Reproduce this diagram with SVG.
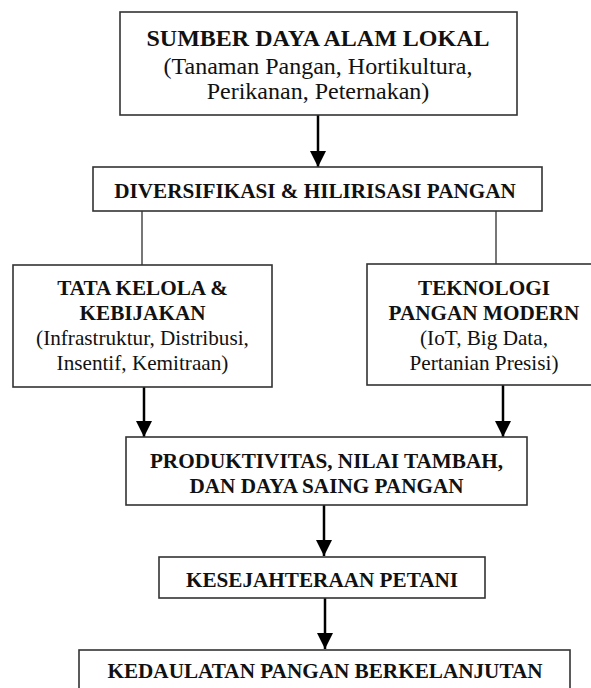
<svg xmlns="http://www.w3.org/2000/svg" width="591" height="688" viewBox="0 0 591 688">
<defs>
<marker id="arr" markerUnits="userSpaceOnUse" markerWidth="16" markerHeight="16" refX="16" refY="8" orient="auto" viewBox="0 0 16 16">
<path d="M0,0 L16,8 L0,16 z" fill="#000"/>
</marker>
<style>
.box{fill:#fff;stroke:#333;stroke-width:1.6}
.t{font-family:"Liberation Serif","Times New Roman",serif;font-size:21.2px;fill:#111;text-anchor:middle}
.big{font-size:24px}
.b{font-weight:bold}
.arrow{stroke:#000;stroke-width:2.5;fill:none;marker-end:url(#arr)}
.line{stroke:#555;stroke-width:1.6;fill:none}
</style>
</defs>
<rect width="591" height="688" fill="#fff"/>
<g id="connectors">
<line class="arrow" x1="318" y1="115" x2="318" y2="167"/>
<line class="line" x1="142" y1="211" x2="142" y2="265"/>
<line class="line" x1="496" y1="211" x2="496" y2="264"/>
<line class="arrow" x1="144" y1="387" x2="144" y2="437"/>
<line class="arrow" x1="503" y1="385" x2="503" y2="437"/>
<line class="arrow" x1="324" y1="505" x2="324" y2="556"/>
<line class="arrow" x1="325" y1="598" x2="325" y2="649"/>
</g>
<g id="n1">
<rect class="box" x="120" y="12" width="397" height="103"/>
<text class="t big b" x="318" y="46">SUMBER DAYA ALAM LOKAL</text>
<text class="t big" x="318" y="74">(Tanaman Pangan, Hortikultura,</text>
<text class="t big" x="318" y="99">Perikanan, Peternakan)</text>
</g>
<g id="n2">
<rect class="box" x="93" y="167" width="449" height="44"/>
<text class="t b" x="315" y="198">DIVERSIFIKASI &amp; HILIRISASI PANGAN</text>
</g>
<g id="n3">
<rect class="box" x="13" y="265" width="259" height="122"/>
<text class="t b" x="142.5" y="295">TATA KELOLA &amp;</text>
<text class="t b" x="142.5" y="320">KEBIJAKAN</text>
<text class="t" x="142.5" y="345">(Infrastruktur, Distribusi,</text>
<text class="t" x="142.5" y="370">Insentif, Kemitraan)</text>
</g>
<g id="n4">
<rect class="box" x="367" y="264" width="234" height="121"/>
<text class="t b" x="484" y="295">TEKNOLOGI</text>
<text class="t b" x="484" y="320">PANGAN MODERN</text>
<text class="t" x="484" y="345">(IoT, Big Data,</text>
<text class="t" x="484" y="370">Pertanian Presisi)</text>
</g>
<g id="n5">
<rect class="box" x="126" y="437" width="401" height="68"/>
<text class="t b" x="326.5" y="468">PRODUKTIVITAS, NILAI TAMBAH,</text>
<text class="t b" x="326.5" y="493">DAN DAYA SAING PANGAN</text>
</g>
<g id="n6">
<rect class="box" x="159" y="557" width="326" height="41"/>
<text class="t b" x="322" y="587">KESEJAHTERAAN PETANI</text>
</g>
<g id="n7">
<rect class="box" x="79" y="650" width="491" height="60"/>
<text class="t b" x="325" y="678">KEDAULATAN PANGAN BERKELANJUTAN</text>
</g>
</svg>
